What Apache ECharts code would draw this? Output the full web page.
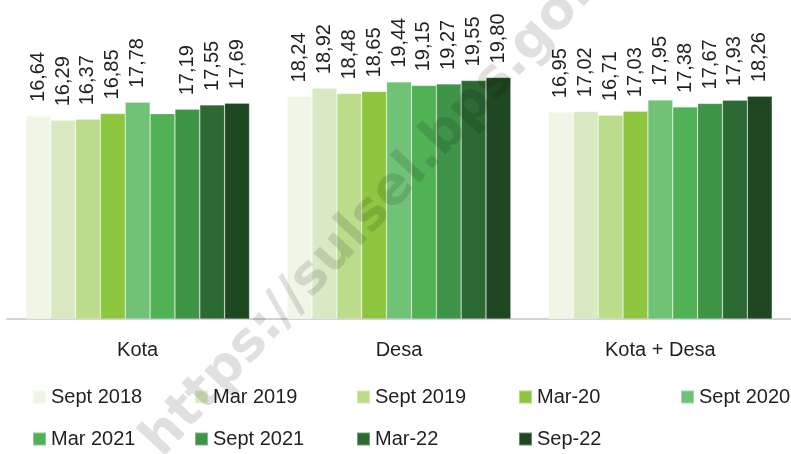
<!DOCTYPE html>
<html>
<head>
<meta charset="utf-8">
<script src="https://cdn.jsdelivr.net/npm/echarts@6/dist/echarts.min.js"></script>
<style>
    html, body { margin: 0; padding: 0; background: #fff; }
    #chart { width: 791px; height: 454px; }
</style>
</head>
<body>
<div id="chart"></div>
<script>
// kategori wilayah
var categories = ['Kota', 'Desa', 'Kota + Desa'];
// periode survei (urutan legenda)
var periods = ['Sept 2018', 'Mar 2019', 'Sept 2019', 'Mar-20', 'Sept 2020', 'Mar 2021', 'Sept 2021', 'Mar-22', 'Sep-22'];
// nilai per periode: [Kota, Desa, Kota + Desa]
var sept2018 = [16.64, 18.24, 16.95];
var mar2019 = [16.29, 18.92, 17.02];
var sept2019 = [16.37, 18.48, 16.71];
var mar2020 = [16.85, 18.65, 17.03];
var sept2020 = [17.78, 19.44, 17.95];
var mar2021 = [16.83, 19.15, 17.38];
var sept2021 = [17.19, 19.27, 17.67];
var mar2022 = [17.55, 19.55, 17.93];
var sep2022 = [17.69, 19.80, 18.26];
// label yang tidak tampil di gambar asli: [indeks seri, indeks kategori]
var hiddenLabels = [[5, 0]];

var values = [sept2018, mar2019, sept2019, mar2020, sept2020, mar2021, sept2021, mar2022, sep2022];
var colors = ['#eff6e6', '#d9eac3', '#badc8b', '#8dc63f', '#6fc276', '#51b155', '#3f9447', '#2d6a33', '#1f4722'];

var myChart = echarts.init(document.getElementById('chart'));

var series = periods.map(function (name, i) {
    return {
        name: name,
        type: 'bar',
        barGap: '0%',
        barCategoryGap: '14.4%',
        itemStyle: {
            color: colors[i],
            borderColor: 'rgba(255,255,255,0.35)',
            borderWidth: 0.6
        },
        label: {
            show: true,
            position: 'top',
            rotate: 90,
            align: 'left',
            verticalAlign: 'middle',
            distance: 14,
            fontFamily: 'Liberation Sans',
            fontSize: 20,
            color: '#231f20',
            formatter: function (p) {
                return p.value.toFixed(2).replace('.', ',');
            }
        },
        data: values[i].map(function (v, j) {
            var hide = hiddenLabels.some(function (h) { return h[0] === i && h[1] === j; });
            return hide ? {value: v, label: {show: false}} : v;
        })
    };
});

var legendBase = {
    orient: 'horizontal',
    icon: 'rect',
    itemWidth: 13,
    itemHeight: 13,
    itemGap: 0,
    padding: 0,
    left: 32,
    width: 900,
    selectedMode: false,
    textStyle: {
        fontFamily: 'Liberation Sans',
        fontSize: 20,
        color: '#231f20',
        width: 143,
        lineHeight: 22
    }
};

var option = {
    animation: false,
    backgroundColor: '#ffffff',
    grid: {
        left: 7,
        right: -8,
        top: 14,
        bottom: 135
    },
    legend: [
        Object.assign({}, legendBase, {top: 386, data: periods.slice(0, 5)}),
        Object.assign({}, legendBase, {top: 428, data: periods.slice(5)})
    ],
    xAxis: {
        type: 'category',
        data: categories,
        axisLine: {lineStyle: {color: '#d3d3d3', width: 2}},
        axisTick: {show: false},
        axisLabel: {
            margin: 21,
            fontFamily: 'Liberation Sans',
            fontSize: 20,
            color: '#231f20'
        }
    },
    yAxis: {
        type: 'value',
        min: 0,
        max: 25,
        show: false,
        splitLine: {show: false}
    },
    graphic: [{
        type: 'text',
        x: 387,
        y: 197,
        rotation: 47 * Math.PI / 180,
        z: 100,
        silent: true,
        style: {
            text: 'https://sulsel.bps.go.id',
            fontFamily: 'DejaVu Sans',
            fontWeight: 'bold',
            fontSize: 53,
            fill: 'rgba(0,0,0,0.12)',
            align: 'center',
            verticalAlign: 'middle'
        }
    }],
    series: series
};
myChart.setOption(option);
</script>
</body>
</html>
